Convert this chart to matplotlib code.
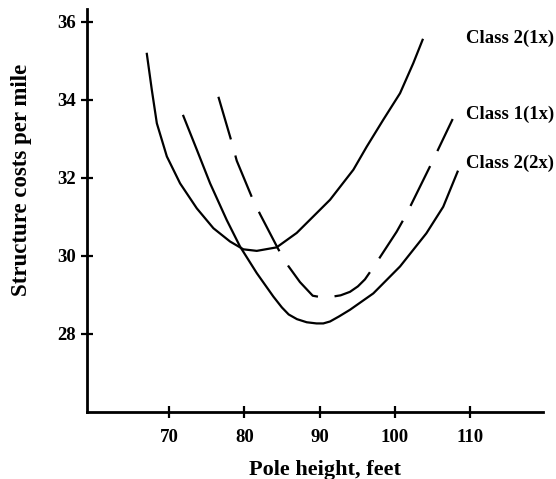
import matplotlib.pyplot as plt

plt.rcParams['font.family'] = ['Liberation Serif', 'DejaVu Serif']
plt.rcParams['font.weight'] = 'bold'

# Class 2(1x) - solid, upper curve
c21_x = [67.05, 67.71, 68.38, 69.71, 71.47, 73.69, 75.9, 78.11, 79.88, 81.66,
         84.3, 86.97, 89.63, 91.4, 94.5, 96.27, 98.47, 100.7, 102.46, 103.7]
c21_y = [35.18, 34.26, 33.40, 32.55, 31.86, 31.22, 30.71, 30.37, 30.17, 30.13,
         30.22, 30.59, 31.10, 31.44, 32.21, 32.80, 33.49, 34.17, 34.94, 35.54]

# Class 2(2x) - solid, lower curve
c22_x = [71.9, 73.7, 75.46, 77.67, 79.44, 81.66, 83.86, 85.0, 85.9, 87.0,
         88.3, 89.6, 90.5, 91.4, 92.6, 94.05, 97.15, 100.7, 104.2, 106.44, 108.35]
c22_y = [33.59, 32.72, 31.86, 30.92, 30.24, 29.56, 28.96, 28.68, 28.50, 28.38,
         28.30, 28.27, 28.27, 28.32, 28.45, 28.62, 29.04, 29.73, 30.58, 31.26, 32.16]

# Class 1(1x) - dashed
c11_x = [76.56, 78.34, 79.0, 81.0, 82.1, 84.53, 85.86, 87.4, 89.1, 90.3,
         91.5, 92.8, 94.05, 95.1, 96.04, 97.37, 100.25, 101.5, 103.8, 104.9, 107.7]
c11_y = [34.08, 32.91, 32.44, 31.51, 31.07, 30.17, 29.74, 29.33, 28.98, 28.94,
         28.95, 28.99, 29.08, 29.22, 29.40, 29.77, 30.62, 31.05, 31.95, 32.38, 33.51]

x_ticks = [70, 80, 90, 100, 110]
y_ticks = [28, 30, 32, 34, 36]

fig = plt.figure(figsize=(5.56, 4.79), dpi=100)
ax = fig.add_axes([0.1565, 0.1399, 0.8201, 0.8413])

ax.plot(c21_x, c21_y, color='black', lw=1.6)
ax.plot(c22_x, c22_y, color='black', lw=1.6)
dashed, = ax.plot(c11_x, c11_y, color='black', lw=1.6)
dashed.set_dashes([20, 7.5])

# curve labels
ax.text(109.46, 35.59, 'Class 2(1x)', fontsize=13.5, fontweight='bold', va='center', clip_on=False)
ax.text(109.46, 33.62, 'Class 1(1x)', fontsize=13.5, fontweight='bold', va='center', clip_on=False)
ax.text(109.46, 32.38, 'Class 2(2x)', fontsize=13.5, fontweight='bold', va='center', clip_on=False)

ax.set_xlim(59.1, 119.7)
ax.set_ylim(26, 36.33)
ax.set_xticks(x_ticks)
ax.set_yticks(y_ticks)

ax.spines['top'].set_visible(False)
ax.spines['right'].set_visible(False)
ax.spines['left'].set_linewidth(2)
ax.spines['bottom'].set_linewidth(2)

ax.tick_params(axis='both', direction='inout', length=8, width=1.6, labelsize=13.5)
ax.tick_params(axis='x', pad=8)
ax.tick_params(axis='y', pad=4)

ax.set_xlabel('Pole height, feet', fontsize=16, fontweight='bold', va='top')
ax.set_ylabel('Structure costs per mile', fontsize=16.5, fontweight='bold')
ax.xaxis.set_label_coords(0.521, -0.119)
ax.yaxis.set_label_coords(-0.12, 0.576)

plt.savefig('out.png', dpi=100)
